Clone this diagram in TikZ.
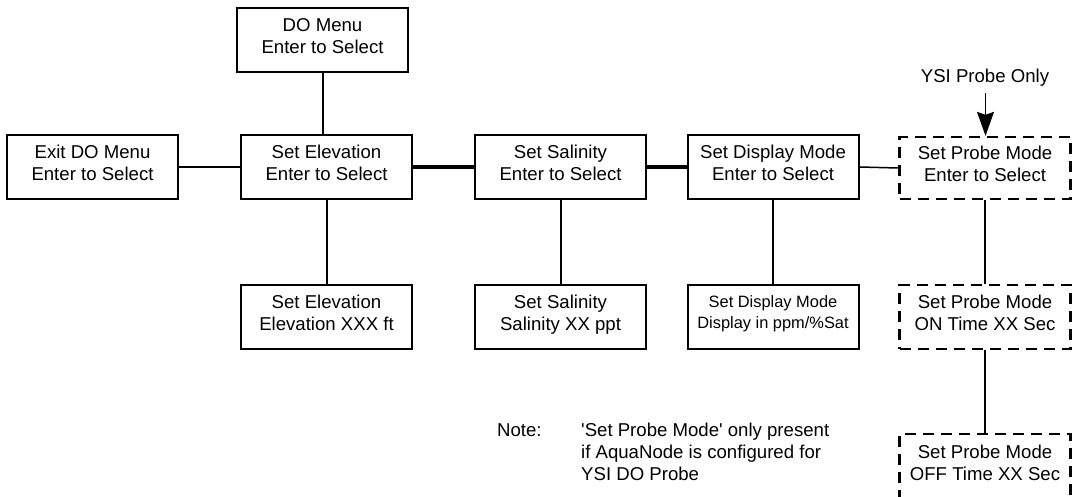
\documentclass[tikz,border=0pt]{standalone}
\usepackage{fontspec}
\setmainfont{Liberation Sans}[Ligatures=TeXOff]
\usetikzlibrary{arrows.meta}
\begin{document}
\begin{tikzpicture}[x=1pt,y=-1pt,
  menubox/.style={draw, line width=2pt, rectangle, minimum width=171pt, minimum height=64pt,
    inner sep=0pt, align=center, font=\fontsize{18.6pt}{22pt}\selectfont, text depth=9pt},
  smallbox/.style={menubox, font=\fontsize{16.4pt}{21pt}\selectfont},
  optbox/.style={menubox, line width=2.3pt, dash pattern=on 11pt off 7pt},
  link/.style={line width=2pt},
  thicklink/.style={line width=3.4pt},
  thinlink/.style={line width=1.5pt},
  plain/.style={inner sep=0pt, font=\fontsize{18.6pt}{22pt}\selectfont}
]
\useasboundingbox (0,0) rectangle (1076,497);
% top
\node[menubox] (dom) at (322.5,40.5) {DO Menu\\Enter to Select};
% main row
\node[menubox] (exit) at (92.5,167) {Exit DO Menu\\Enter to Select};
\node[menubox] (elev) at (326.5,167) {Set Elevation\\Enter to Select};
\node[menubox] (sal) at (560.5,167) {Set Salinity\\Enter to Select};
\node[menubox] (disp) at (773,167) {Set Display Mode\\Enter to Select};
\node[optbox, minimum height=62pt] (probe) at (985,168) {Set Probe Mode\\Enter to Select};
% sub row
\node[menubox] (elevsub) at (326.5,317) {Set Elevation\\Elevation XXX ft};
\node[menubox] (salsub) at (560.5,317) {Set Salinity\\Salinity XX ppt};
\node[smallbox] (dispsub) at (773,317) {Set Display Mode\\Display in ppm/\%Sat};
\node[optbox] (probeon) at (985,317) {Set Probe Mode\\ON Time XX Sec};
\node[optbox, minimum height=70pt, text depth=12pt] (probeoff) at (985,469) {Set Probe Mode\\OFF Time XX Sec};
% connectors
\draw[link] (dom.south) -- (dom.south |- elev.north);
\draw[link] (exit.east) -- (elev.west);
\draw[thicklink] (elev.east) -- (sal.west);
\draw[thicklink] (sal.east) -- (disp.west);
\draw[thinlink] (disp.east) -- (probe.west);
\draw[link] (elev.south) -- (elevsub.north);
\draw[link] (sal.south) -- (salsub.north);
\draw[link] (disp.south) -- (dispsub.north);
\draw[link] (probe.south) -- (probeon.north);
\draw[link] (probeon.south) -- (probeoff.north);
% annotation
\node[plain, anchor=base] (ysi) at (985,82.7) {YSI Probe Only};
\coordinate (ysiarrow) at (985.5,93);
\draw[line width=1pt, -{Stealth[length=24pt,width=17pt,inset=3pt]}] (ysiarrow) -- (ysiarrow |- probe.north);
\node[plain, anchor=base west] (note) at (497,436) {Note:};
\node[plain, anchor=north west, align=left] (notetext) at (581,422.4) {'Set Probe Mode' only present\\if AquaNode is configured for\\YSI DO Probe};
\end{tikzpicture}
\end{document}
